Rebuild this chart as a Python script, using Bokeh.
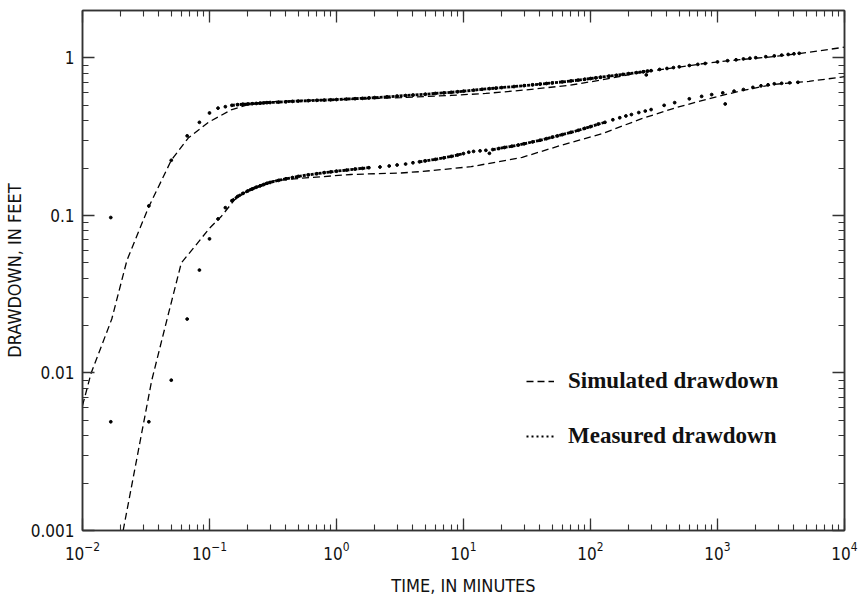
import numpy as np
from bokeh.plotting import figure
from bokeh.models import (LogAxis, LogTicker, Legend, LegendItem,
                          CustomJSTickFormatter)
from bokeh.embed import file_html
from bokeh.resources import INLINE

# ---------------- data (time in minutes, drawdown in feet) ----------------
sim_upper_t = [0.010, 0.0117, 0.017, 0.0224, 0.033, 0.050, 0.068, 0.098, 0.148,
               0.21, 0.30, 0.52, 1.0, 3.2, 8.0, 15, 30, 68, 123, 250, 500, 850,
               1500, 2800, 5000, 10000]
sim_upper_s = [0.0062, 0.010, 0.022, 0.052, 0.112, 0.224, 0.31, 0.39, 0.468,
               0.51, 0.527, 0.537, 0.543, 0.56, 0.578, 0.595, 0.625, 0.67, 0.725,
               0.81, 0.875, 0.93, 0.975, 1.02, 1.08, 1.17]

sim_lower_t = [0.0209, 0.035, 0.045, 0.060, 0.076, 0.10, 0.123, 0.158, 0.21,
               0.32, 0.52, 1.3, 3.2, 4.7, 11.5, 29, 59, 123, 250, 457, 850,
               1550, 2800, 5250, 10000]
sim_lower_s = [0.001, 0.0089, 0.020, 0.050, 0.063, 0.083, 0.098, 0.126, 0.148,
               0.166, 0.172, 0.182, 0.186, 0.19, 0.204, 0.234, 0.279, 0.33, 0.41,
               0.48, 0.55, 0.62, 0.68, 0.71, 0.76]

meas_upper_t = [0.0167, 0.0333, 0.05, 0.0667, 0.0833, 0.1, 0.1167, 0.1333,
                0.15, 0.1667, 0.1833, 0.2, 0.2167, 0.2333, 0.25, 0.2667,
                0.2833, 0.3, 0.35, 0.4, 0.45, 0.5, 0.6, 0.7,
                0.8, 0.9, 1.0, 1.2, 1.4, 1.6, 1.8, 2.0,
                2.5, 3.0, 3.5, 4.0, 5, 6, 7, 8,
                9, 10, 12, 14, 16, 18, 20, 25,
                30, 35, 40, 45, 50, 60, 70, 80,
                90, 100, 110, 120, 140, 160, 180, 200,
                230, 260, 280, 300, 350, 400, 450, 500,
                600, 700, 800, 1000, 1200, 1400, 1600, 1800,
                2000, 2400, 2800, 3200, 3600, 4000, 4400]
meas_upper_s = [0.097, 0.115, 0.224, 0.32, 0.39, 0.447, 0.48, 0.49,
                0.50, 0.505, 0.508, 0.51, 0.512, 0.514, 0.516, 0.518,
                0.52, 0.521, 0.524, 0.527, 0.53, 0.532, 0.535, 0.538,
                0.54, 0.542, 0.544, 0.548, 0.551, 0.554, 0.557, 0.56,
                0.566, 0.572, 0.577, 0.581, 0.588, 0.595, 0.60, 0.605,
                0.61, 0.615, 0.624, 0.632, 0.638, 0.643, 0.648, 0.658,
                0.667, 0.675, 0.682, 0.688, 0.694, 0.704, 0.714, 0.723,
                0.732, 0.74, 0.747, 0.754, 0.766, 0.776, 0.786, 0.795,
                0.806, 0.817, 0.824, 0.83, 0.845, 0.857, 0.868, 0.878,
                0.895, 0.91, 0.922, 0.943, 0.96, 0.973, 0.985, 0.995,
                1.003, 1.018, 1.03, 1.042, 1.052, 1.062, 1.07]
upper_dense = [(0.15, 300)]

meas_lower_t = [0.0167, 0.0333, 0.05, 0.0667, 0.0833, 0.1, 0.1167, 0.1333,
                0.15, 0.1667, 0.1833, 0.2, 0.2167, 0.2333, 0.25, 0.2667,
                0.2833, 0.3, 0.35, 0.4, 0.45, 0.5, 0.6, 0.7,
                0.8, 0.9, 1.0, 1.2, 1.4, 1.6, 1.8, 2.2,
                2.6, 3.0, 3.5, 4.0, 4.5, 5, 6, 7,
                8, 9, 10, 11, 12, 13.5, 15, 17,
                19, 21, 24, 27, 30, 35, 40, 45,
                50, 55, 60, 70, 80, 90, 100, 115,
                130, 150, 170, 190, 210, 240, 270, 300,
                380, 460, 600, 750, 900, 1100, 1350, 1600,
                1900, 2200, 2500, 2800, 3200, 3700, 4300]
meas_lower_s = [0.0049, 0.0049, 0.009, 0.022, 0.045, 0.071, 0.095, 0.112,
                0.124, 0.132, 0.138, 0.143, 0.147, 0.151, 0.154, 0.157,
                0.16, 0.162, 0.167, 0.171, 0.174, 0.177, 0.181, 0.184,
                0.187, 0.189, 0.191, 0.194, 0.197, 0.199, 0.201, 0.203,
                0.206, 0.209, 0.212, 0.216, 0.219, 0.222, 0.227, 0.232,
                0.237, 0.242, 0.247, 0.252, 0.255, 0.257, 0.259, 0.262,
                0.266, 0.27, 0.275, 0.28, 0.285, 0.293, 0.30, 0.307,
                0.314, 0.32, 0.326, 0.337, 0.347, 0.357, 0.366, 0.38,
                0.39, 0.405, 0.417, 0.428, 0.437, 0.45, 0.46, 0.47,
                0.50, 0.52, 0.55, 0.57, 0.585, 0.60, 0.615, 0.63,
                0.65, 0.665, 0.675, 0.685, 0.69, 0.695, 0.70]
lower_dense = [(0.15, 1.8), (4.5, 10), (17, 130)]

outlier_t = [275, 16, 1150]
outlier_s = [0.78, 0.248, 0.51]

x_range = (1e-2, 1e4)
y_range = (1e-3, 2.0)

# ---------------- styling ----------------
SANS = "DejaVu Sans Condensed, Roboto Condensed, Roboto, sans-serif"
SERIF = "Liberation Serif"
AX = "#333333"
INK = "#111111"

p = figure(x_axis_type="log", y_axis_type="log",
           x_range=x_range, y_range=y_range,
           frame_width=762, frame_height=520,
           min_border_left=81, min_border_right=19,
           min_border_top=10, min_border_bottom=72,
           output_backend="svg", toolbar_location=None)
p.grid.visible = False
p.outline_line_color = AX
p.outline_line_width = 1.5
p.background_fill_color = "white"
p.border_fill_color = "white"

p.xaxis.ticker = LogTicker(desired_num_ticks=8, num_minor_ticks=10)
p.yaxis.ticker = LogTicker(desired_num_ticks=5, num_minor_ticks=10)
p.yaxis.formatter = CustomJSTickFormatter(code="return parseFloat(tick.toPrecision(3)).toString();")


def style_axis(ax):
    ax.axis_line_color = AX
    ax.axis_line_width = 1.5
    ax.major_tick_line_color = AX
    ax.minor_tick_line_color = AX
    ax.major_tick_line_width = 1.3
    ax.minor_tick_line_width = 1.1
    ax.major_tick_in = 12
    ax.major_tick_out = 0
    ax.minor_tick_in = 6
    ax.minor_tick_out = 0
    ax.major_label_text_font = SANS
    ax.major_label_text_font_size = "17px"
    ax.major_label_text_color = INK
    ax.axis_label_text_font = SANS
    ax.axis_label_text_font_size = "18px"
    ax.axis_label_text_font_style = "normal"
    ax.axis_label_text_color = INK


for ax in p.xaxis + p.yaxis:
    style_axis(ax)
p.xaxis.axis_label = "TIME, IN MINUTES"
p.yaxis.axis_label = "DRAWDOWN, IN FEET"
p.xaxis.major_label_standoff = 10
p.xaxis.axis_label_standoff = 12
p.yaxis.major_label_standoff = 8
p.yaxis.axis_label_standoff = 3

blank = CustomJSTickFormatter(code="return '';")
top = LogAxis(ticker=LogTicker(desired_num_ticks=8, num_minor_ticks=10), formatter=blank)
right = LogAxis(ticker=LogTicker(desired_num_ticks=5, num_minor_ticks=10), formatter=blank)
for ax in (top, right):
    style_axis(ax)
    ax.major_label_standoff = 0
p.add_layout(top, "above")
p.add_layout(right, "right")

# ---------------- glyphs ----------------
DASH = "7 4"
r_sim_u = p.line(sim_upper_t, sim_upper_s, line_color="black", line_width=1.3, line_dash=DASH)
p.line(sim_lower_t, sim_lower_s, line_color="black", line_width=1.3, line_dash=DASH)


def dense_line(t, s, ranges):
    t = np.asarray(t, float)
    s = np.asarray(s, float)
    m = np.zeros(len(t), bool)
    for a, b in ranges:
        m |= (t >= a) & (t <= b)
    y = np.where(m, s, np.nan)
    p.line(t, y, line_color="black", line_width=2.8, line_dash="3 1")


dense_line(meas_upper_t, meas_upper_s, upper_dense)
dense_line(meas_lower_t, meas_lower_s, lower_dense)

p.scatter(meas_upper_t, meas_upper_s, size=2.8, color="black")
p.scatter(meas_lower_t, meas_lower_s, size=2.8, color="black")
p.scatter(outlier_t, outlier_s, size=2.8, color="black")

# legend-only renderer for measured (dotted sample)
r_meas_leg = p.line(x=[1e-5, 1e-5], y=[1e-6, 1e-6], line_color="black",
                    line_width=2.2, line_dash="2 3")

legend = Legend(items=[LegendItem(label="Simulated drawdown", renderers=[r_sim_u]),
                       LegendItem(label="Measured drawdown", renderers=[r_meas_leg])],
                location=(444, 81), orientation="vertical",
                glyph_width=28, glyph_height=20, label_height=20,
                label_standoff=14, spacing=29, padding=0, margin=0,
                background_fill_alpha=0, border_line_alpha=0,
                label_text_font=SERIF, label_text_font_style="bold",
                label_text_font_size="23px", label_text_color=INK)
p.add_layout(legend)

open("out.html", "w").write(file_html(p, INLINE))
